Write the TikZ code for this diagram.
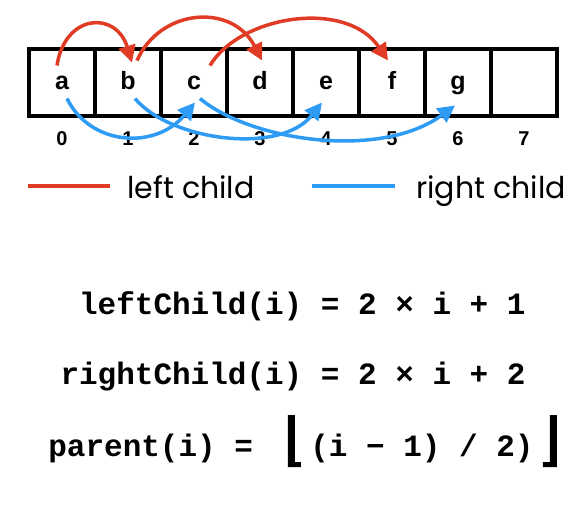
\documentclass[tikz,border=0pt]{standalone}
\usepackage{fontspec}
\usepackage{xcolor}
\usepackage{tikz}
\usetikzlibrary{positioning, arrows.meta}
\newfontfamily\cellfont{Liberation Sans}
\newfontfamily\codefont{Liberation Mono}
\newfontfamily\legendfont{Poppins}
\definecolor{leftred}{RGB}{224,59,36}
\definecolor{rightblue}{RGB}{46,155,245}

\begin{document}
\begin{tikzpicture}[x=0.5pt, y=-0.5pt]
			\tikzstyle{cell}=[draw=black, line width=2pt, minimum width=33pt, minimum height=33.5pt, inner sep=0pt, font=\cellfont\bfseries\fontsize{12.5}{14}\selectfont, text height=7pt, text depth=0.5pt]
			\tikzstyle{idx}=[inner sep=0pt, outer sep=0pt, font=\cellfont\bfseries\fontsize{10}{12}\selectfont]
			\tikzstyle{leftarr}=[draw=leftred, line width=1.75pt, -{Triangle[length=8.5pt, width=8.5pt]}]
			\tikzstyle{rightarr}=[draw=rightblue, line width=1.75pt, -{Triangle[length=8.5pt, width=8.5pt]}]
			\tikzstyle{legend}=[inner sep=0pt, anchor=base west, font=\legendfont\fontsize{15}{18}\selectfont]
			\tikzstyle{code}=[inner sep=0pt, font=\codefont\bfseries\fontsize{15.5}{18}\selectfont]
			\useasboundingbox (0,0) rectangle (586,516);
			%% array cells
			\node (c0) at (62,82.5) [cell] {a};
			\node (c1) at (128,82.5) [cell] {b};
			\node (c2) at (194,82.5) [cell] {c};
			\node (c3) at (260,82.5) [cell] {d};
			\node (c4) at (326,82.5) [cell] {e};
			\node (c5) at (392,82.5) [cell] {f};
			\node (c6) at (458,82.5) [cell] {g};
			\node (c7) at (524,82.5) [cell] {};
			
			\node [below=7pt of c0, idx] (n0) {0};
			\node [below=7pt of c1, idx] (n1) {1};
			\node [below=7pt of c2, idx] (n2) {2};
			\node [below=7pt of c3, idx] (n3) {3};
			\node [below=7pt of c4, idx] (n4) {4};
			\node [below=7pt of c5, idx] (n5) {5};
			\node [below=7pt of c6, idx] (n6) {6};
			\node [below=7pt of c7, idx] (n7) {7};
			
			%% left children
			\draw [leftarr] ([shift={(-5,-17)}]c0.center) .. controls +(8,-52) and +(-16,-52) .. ([shift={(4,-20)}]c1.center);
			\draw [leftarr] ([shift={(9,-22)}]c1.center) .. controls +(23,-52) and +(-30,-58) .. ([shift={(2,-22)}]c3.center);
			\draw [leftarr] ([shift={(16,-17)}]c2.center) .. controls +(30,-50) and +(-42,-62) .. ([shift={(-4,-22)}]c5.center);
			%% right children
			\draw [rightarr] ([shift={(5,16)}]c0.center) .. controls +(23,47) and +(-40,48) .. ([shift={(1,20)}]c2.center);
			\draw [rightarr] ([shift={(7,16)}]c1.center) .. controls +(35,42) and +(-42,53) .. ([shift={(-4,20)}]c4.center);
			\draw [rightarr] ([shift={(6,16)}]c2.center) .. controls +(50,42) and +(-75,55) .. ([shift={(-3,23)}]c6.center);
			
			%% legend
			\draw [leftred, line width=1.75pt] (28,186) -- (110,186);
			\node [legend] (lleft) at (127,198) {left child};
			\draw [rightblue, line width=1.75pt] (312,186) -- (395,186);
			\node [legend] (lright) at (416,198) {right child};
			
			%% formulas
			\node [code, anchor=base east] (fleft) at (526,314) {leftChild(i) = 2 × i + 1};
			\node [code, anchor=base east] (fright) at (526,384) {rightChild(i) = 2 × i + 2};
			\node [code, anchor=base west] (fparent) at (48,456) {parent(i) =};
			\node [code, anchor=base west] (finner) at (310,456) {(i − 1) / 2)};
			\fill (288,415) -- (295,415) -- (295,462) -- (301,462) -- (301,467) -- (288,467) -- cycle;
			\fill (550,415) -- (557,415) -- (557,467) -- (543,467) -- (543,462) -- (550,462) -- cycle;
\end{tikzpicture}
\end{document}
